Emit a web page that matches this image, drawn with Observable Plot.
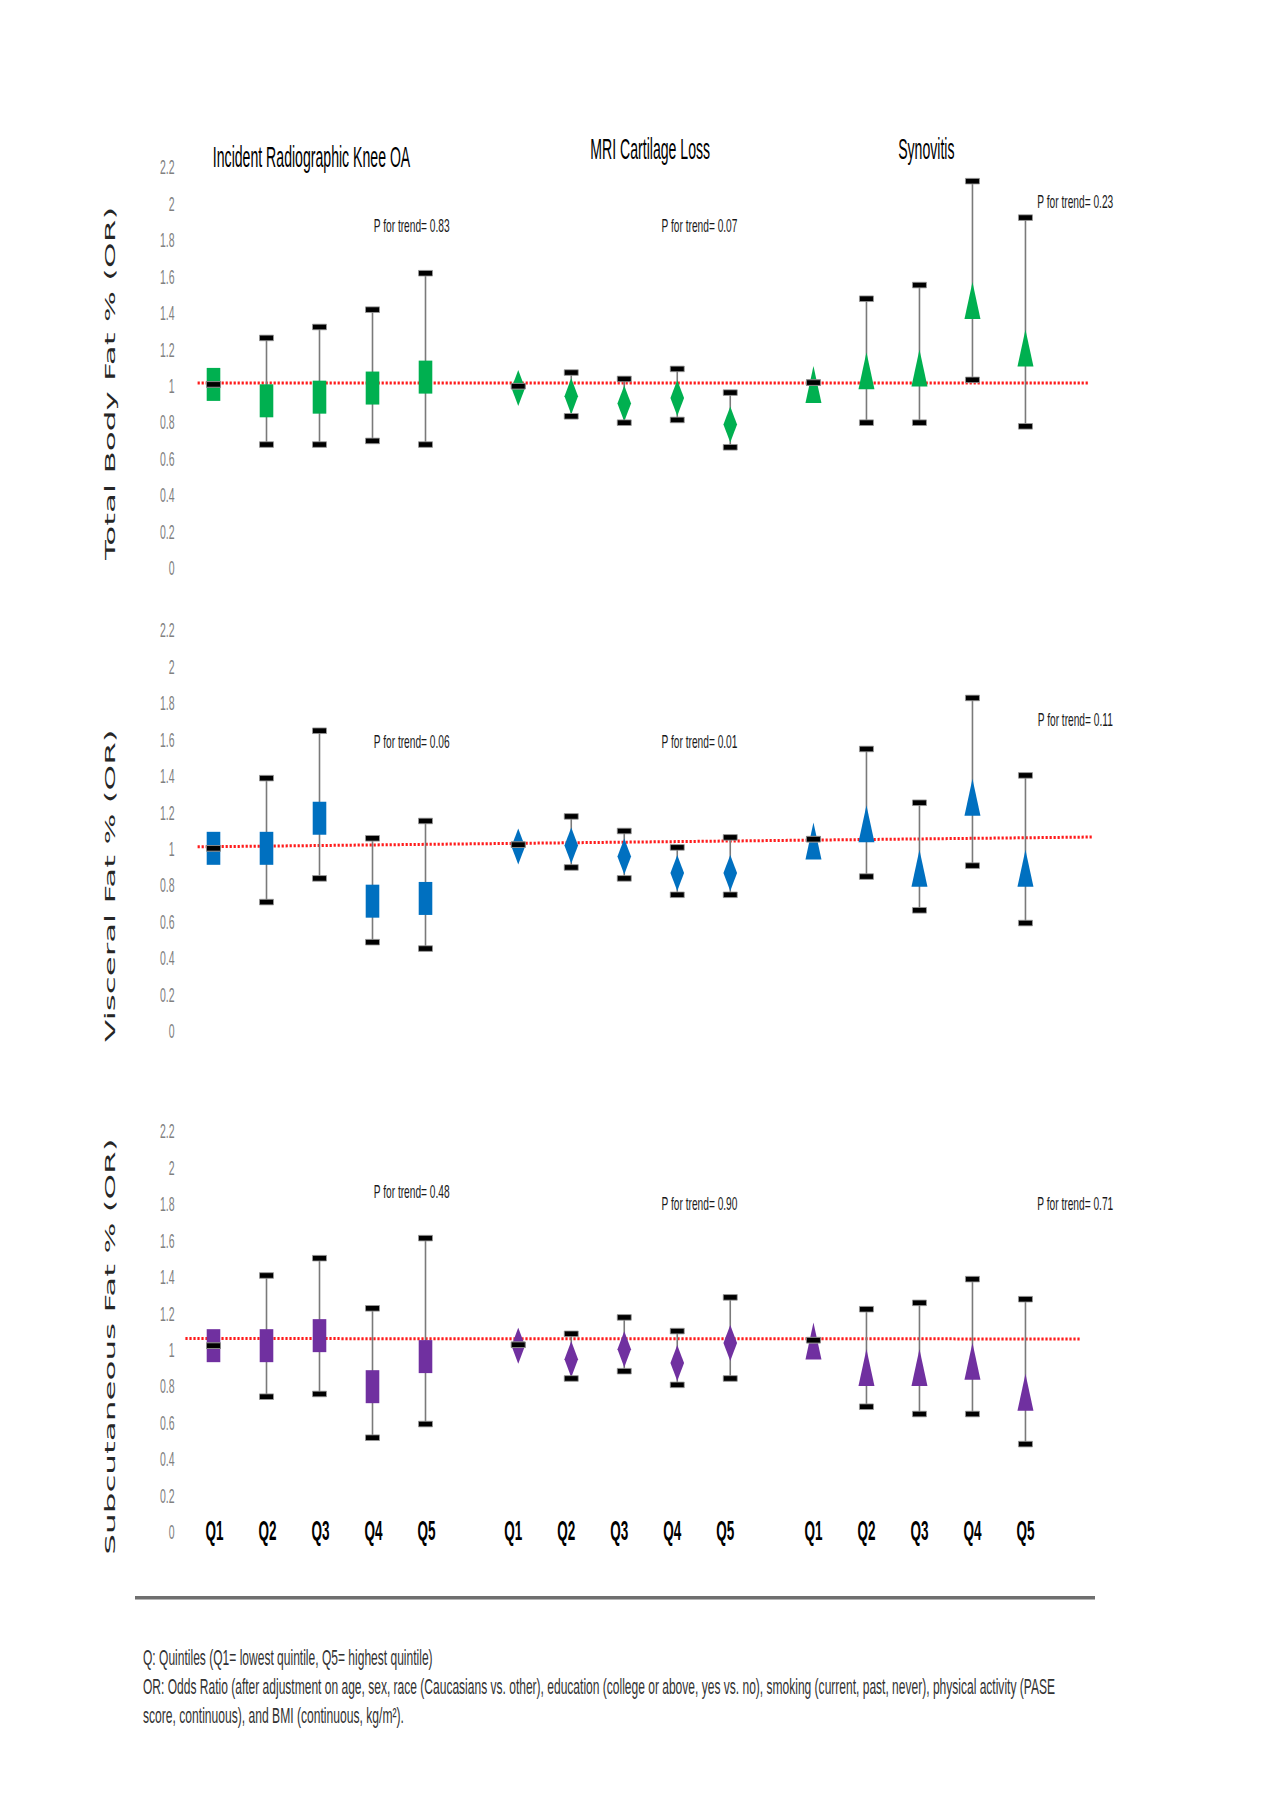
<!DOCTYPE html>
<html>
<head>
<meta charset="utf-8">
<script src="https://cdn.jsdelivr.net/npm/d3@7"></script>
<script src="https://cdn.jsdelivr.net/npm/@observablehq/plot@0.6"></script>
<style>
  body { margin: 0; background: #fff; }
  #page { position: relative; width: 1280px; height: 1813px; overflow: hidden; background: #fff; }
  .row { position: absolute; left: 0; }
  .row svg { overflow: visible; }
  #rule { position: absolute; left: 135px; top: 1596px; width: 960px; height: 3px; background: #6f6f6f; border-bottom: 1px solid #b5b5b5; }
</style>
</head>
<body>
<div id="page"><div id="rule"></div></div>
<script>
// ---------------- DATA ----------------
const quintiles = ["Q1", "Q2", "Q3", "Q4", "Q5"];
const outcomes = ["Incident Radiographic Knee OA", "MRI Cartilage Loss", "Synovitis"];
const exposures = ["Total Body Fat % (OR)", "Visceral Fat % (OR)", "Subcutaneous Fat % (OR)"];
const yTicks = [0, 0.2, 0.4, 0.6, 0.8, 1, 1.2, 1.4, 1.6, 1.8, 2, 2.2];

// odds ratios [outcome][quintile]
const totalFatOR    = [[1.01, 0.92, 0.94, 0.99, 1.05], [0.99, 0.945, 0.905, 0.935, 0.79], [1.01, 1.085, 1.10, 1.47, 1.21]];
const totalFatLower = [[1.01, 0.68, 0.68, 0.70, 0.68], [1.00, 0.835, 0.80, 0.815, 0.665], [1.02, 0.80, 0.80, 1.035, 0.78]];
const totalFatUpper = [[1.01, 1.265, 1.325, 1.42, 1.62], [1.00, 1.075, 1.04, 1.095, 0.965], [1.02, 1.48, 1.555, 2.125, 1.925]];

const visceralOR    = [[1.005, 1.005, 1.17, 0.715, 0.73], [1.015, 1.02, 0.96, 0.87, 0.87], [1.045, 1.14, 0.895, 1.285, 0.895]];
const visceralLower = [[1.005, 0.71, 0.84, 0.49, 0.455], [1.025, 0.90, 0.84, 0.75, 0.75], [1.055, 0.85, 0.665, 0.91, 0.595]];
const visceralUpper = [[1.005, 1.39, 1.65, 1.06, 1.155], [1.025, 1.18, 1.10, 1.01, 1.065], [1.055, 1.55, 1.255, 1.83, 1.405]];

const subcutOR    = [[1.025, 1.025, 1.08, 0.80, 0.965], [1.025, 0.95, 1.005, 0.93, 1.04], [1.05, 0.905, 0.905, 0.94, 0.77]];
const subcutLower = [[1.025, 0.745, 0.76, 0.52, 0.595], [1.03, 0.845, 0.885, 0.81, 0.845], [1.055, 0.69, 0.65, 0.65, 0.485]];
const subcutUpper = [[1.025, 1.41, 1.505, 1.23, 1.615], [1.03, 1.09, 1.18, 1.105, 1.29], [1.055, 1.225, 1.26, 1.39, 1.28]];

const pForTrend = [[0.83, 0.07, 0.23], [0.06, 0.01, 0.11], [0.48, 0.90, 0.71]];
// dotted reference line (OR ~ 1) as drawn: [left, right]
const refLineOR = [[1.018, 1.018], [1.013, 1.067], [1.064, 1.062]];

const footnotes = [
  "Q: Quintiles (Q1= lowest quintile, Q5= highest quintile)",
  "OR: Odds Ratio (after adjustment on age, sex, race (Caucasians vs. other), education (college or above, yes vs. no), smoking (current, past, never), physical activity (PASE",
  "score, continuous), and BMI (continuous, kg/m\u00B2)."
];

// ---------------- LAYOUT / STYLE ----------------
const W = 1280;
const stepPx = 53, q1Px = 213;                   // pixel step between quintiles, first quintile
const groupStart = [0, 5.75, 11.32];             // start of each outcome group, in quintile steps
const mL = 182, mR = 170, mT = 60, inner = 401, mB = 40;
const rowTops = [107, 570, 1071];
const rowColors = ["#00b050", "#0070c0", "#7030a0"];
const refLineX = [[-0.30, 16.51], [-0.30, 16.6], [-0.53, 16.36]];
const titleAt = [[1.85, 2.255], [2.49, 2.30], [2.13, 2.30]];
const pTextAt = [
  [[3.74, 1.88], [3.42, 1.88], [4.94, 2.01]],
  [[3.74, 1.59], [3.42, 1.59], [4.94, 1.71]],
  [[3.74, 1.87], [3.42, 1.80], [4.94, 1.80]]
];
const yTitleX = -1.94, yTitleY = [1.015, 0.80, 1.02];
const qLabelDx = [1, -5, 0];

// the original figure is stretched vertically: draw text at a smaller size and stretch it
const vStretch = 1.6;
const textKinds = {
  title:    {size: 30,   squeeze: 0.47},
  ptrend:   {size: 18.5, squeeze: 0.55},
  tick:     {size: 21,   squeeze: 0.5},
  quintile: {size: 27,   squeeze: 0.5}
};
const fs = k => +(textKinds[k].size / vStretch).toFixed(3);
const kindBySize = new Map(Object.keys(textKinds).map(k => [fs(k), textKinds[k]]));
const rotatedStretch = 2.25;

// marker shapes (pixel sizes)
const rectSym = {draw(c) { c.rect(-6.8, -16.5, 13.6, 33); }};
const diamondSym = {draw(c) { c.moveTo(0, -18); c.lineTo(6.8, 0); c.lineTo(0, 18); c.lineTo(-6.8, 0); c.closePath(); }};
const triSym = {draw(c) { c.moveTo(0, -18.5); c.lineTo(8, 18.5); c.lineTo(-8, 18.5); c.closePath(); }};
const capSym = {draw(c) { c.rect(-7, -2.8, 14, 5.6); }};
const markerSyms = [rectSym, diamondSym, triSym];

const series = [
  [totalFatOR, totalFatLower, totalFatUpper],
  [visceralOR, visceralLower, visceralUpper],
  [subcutOR, subcutLower, subcutUpper]
];

const page = document.getElementById("page");
const xDomain = [(mL - q1Px) / stepPx, (W - mR - q1Px) / stepPx];

function stretchTexts(svg) {
  svg.querySelectorAll("text").forEach(t => {
    const tr = t.getAttribute("transform") || "";
    const trAll = tr + (t.parentNode.getAttribute("transform") || "");
    let sx, sy;
    if (trAll.includes("rotate")) { sx = rotatedStretch; sy = 1; }
    else {
      const kind = kindBySize.get(+(+t.parentNode.getAttribute("font-size")).toFixed(3));
      if (!kind) return;
      sx = kind.squeeze * vStretch; sy = vStretch;
    }
    t.setAttribute("transform", (tr + ` scale(${sx.toFixed(3)},${sy.toFixed(3)})`).trim());
  });
}

series.forEach(([orArr, loArr, hiArr], r) => {
  const data = [];
  outcomes.forEach((o, oi) => quintiles.forEach((q, qi) => {
    data.push({outcome: o, oi, q, pos: groupStart[oi] + qi, or: orArr[oi][qi], lo: loArr[oi][qi], hi: hiArr[oi][qi]});
  }));
  const ref = [{x1: refLineX[r][0], x2: refLineX[r][1], y1: refLineOR[r][0], y2: refLineOR[r][1]}];
  const pLabels = outcomes.map((o, oi) => ({
    x: groupStart[oi] + pTextAt[r][oi][0], y: pTextAt[r][oi][1],
    label: "P for trend= " + pForTrend[r][oi].toFixed(2)
  }));
  const marks = [
    Plot.axisY({ticks: yTicks, tickSize: 0, tickPadding: 8, tickFormat: d => String(d), label: null,
                fontSize: fs("tick"), fill: "#808080", fontFamily: "Liberation Sans"}),
    Plot.link(ref, {x1: "x1", x2: "x2", y1: "y1", y2: "y2", stroke: "#ff1a1a", strokeWidth: 3, strokeDasharray: "2.2,1.8"}),
    Plot.ruleX(data, {x: "pos", y1: "lo", y2: "hi", stroke: "#7a7a7a", strokeWidth: 1.6})
  ];
  outcomes.forEach((o, oi) => {
    marks.push(Plot.dot(data.filter(d => d.oi === oi), {x: "pos", y: "or", symbol: markerSyms[oi], fill: rowColors[r], stroke: "none"}));
  });
  marks.push(
    Plot.dot(data, {x: "pos", y: "lo", symbol: capSym, fill: "#000", stroke: "#9a9a9a", strokeWidth: 0.8}),
    Plot.dot(data, {x: "pos", y: "hi", symbol: capSym, fill: "#000", stroke: "#9a9a9a", strokeWidth: 0.8}),
    Plot.text(pLabels, {x: "x", y: "y", text: "label", fontSize: fs("ptrend"), fill: "#1a1a1a", fontFamily: "Liberation Sans"}),
    Plot.text([exposures[r]], {x: () => yTitleX, y: () => yTitleY[r], text: d => d, rotate: -90, fontSize: 14.5,
               fill: "#262626", fontFamily: "DejaVu Sans"})
  );
  if (r === 0) {
    marks.push(Plot.text(outcomes.map((o, oi) => ({o, x: groupStart[oi] + titleAt[oi][0], y: titleAt[oi][1]})),
      {x: "x", y: "y", text: "o", fontSize: fs("title"), fill: "#000", fontFamily: "Liberation Sans"}));
  }
  if (r === 2) {
    outcomes.forEach((o, oi) => {
      marks.push(Plot.text(data.filter(d => d.oi === oi), {x: "pos", y: () => 0, text: "q", dx: qLabelDx[oi], dy: -1,
        fontSize: fs("quintile"), fontWeight: "bold", fill: "#000", fontFamily: "Liberation Sans"}));
    });
  }
  const svg = Plot.plot({
    width: W, height: mT + inner + mB,
    marginLeft: mL, marginRight: mR, marginTop: mT, marginBottom: mB,
    style: {background: "transparent", overflow: "visible", fontFamily: "Liberation Sans"},
    x: {domain: xDomain, axis: null},
    y: {domain: [0, 2.2], axis: null},
    marks
  });
  const div = document.createElement("div");
  div.className = "row";
  div.style.top = rowTops[r] + "px";
  div.appendChild(svg);
  page.appendChild(div);
  stretchTexts(svg);
});

// footnotes
const footW = [290, 913, 261];
const footSize = 22 / vStretch;
const fsvg = d3.create("svg").attr("width", W).attr("height", 160)
  .style("position", "absolute").style("left", "0px").style("top", "1630px");
const ft = fsvg.selectAll("text").data(footnotes).join("text")
  .attr("font-family", "Liberation Sans").attr("font-size", footSize).attr("fill", "#333")
  .text(d => d);
page.appendChild(fsvg.node());
ft.each(function(d, i) {
  const w = this.getComputedTextLength();
  const sx = footW[i] / w;
  this.setAttribute("transform", `translate(143,${35 + i * 29}) scale(${sx.toFixed(3)},${vStretch})`);
});
</script>
</body>
</html>
